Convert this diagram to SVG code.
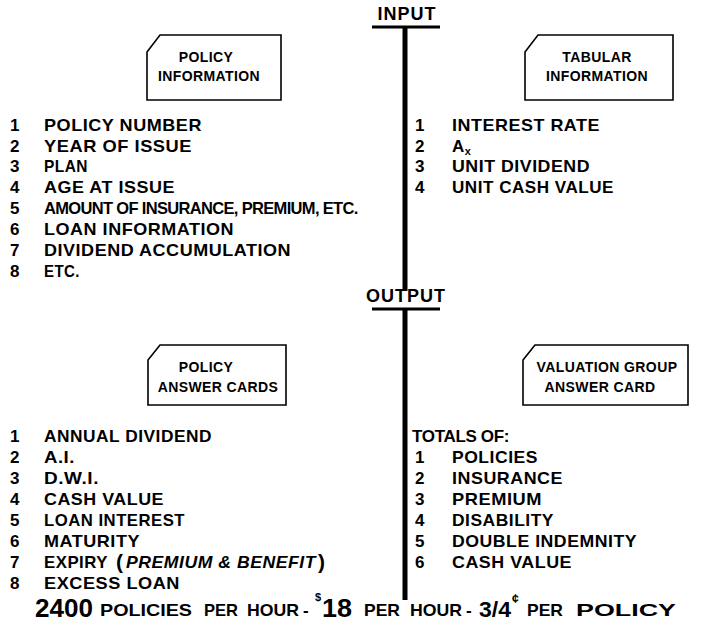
<svg xmlns="http://www.w3.org/2000/svg" width="703" height="637" viewBox="0 0 703 637">
<style>
  text { font-family: "Liberation Sans", Arial, sans-serif; font-weight: bold; fill: #000; }
  .hdr { font-size: 18px; text-anchor: middle; letter-spacing: 1px; }
  .card { fill: #fff; stroke: #000; stroke-width: 1.6; }
  .ct { font-size: 14px; text-anchor: middle; letter-spacing: 0.4px; }
  .li { font-size: 17px; letter-spacing: 0.5px; }
  .it { font-style: italic; }
  .sc { font-size: 17px; }
  .big { font-size: 25px; }
  .line { stroke: #000; fill: none; }
</style>
<rect width="703" height="637" fill="#fff"/>

<g id="connectors">
  <line class="line" x1="372" y1="27" x2="440" y2="27" stroke-width="3"/>
  <line class="line" x1="405" y1="27" x2="405" y2="291" stroke-width="5"/>
  <line class="line" x1="372" y1="309" x2="440" y2="309" stroke-width="3"/>
  <line class="line" x1="405" y1="309" x2="405" y2="600" stroke-width="5"/>
</g>

<g id="input-header"><text class="hdr" x="407" y="20">INPUT</text></g>
<g id="output-header"><text class="hdr" x="406" y="302">OUTPUT</text></g>

<g id="policy-information">
  <path class="card" d="M147,52 L160,35 L281,35 L281,100 L147,100 Z"/>
  <text class="ct" x="206" y="62">POLICY</text>
  <text class="ct" x="209" y="81">INFORMATION</text>
</g>
<g id="tabular-information">
  <path class="card" d="M525,52 L538,35 L673,35 L673,100 L525,100 Z"/>
  <text class="ct" x="597" y="62">TABULAR</text>
  <text class="ct" x="597" y="81">INFORMATION</text>
</g>
<g id="policy-answer-cards">
  <path class="card" d="M148,360 L160,345 L286,345 L286,405 L148,405 Z"/>
  <text class="ct" x="206" y="372">POLICY</text>
  <text class="ct" x="218" y="392">ANSWER CARDS</text>
</g>
<g id="valuation-group-answer-card">
  <path class="card" d="M523,360 L535,345 L688,345 L688,405 L523,405 Z"/>
  <text class="ct" x="607" y="372">VALUATION GROUP</text>
  <text class="ct" x="600" y="392">ANSWER CARD</text>
</g>

<g id="policy-information-list">
  <text class="li" x="10" y="131">1</text><text class="li" x="44" y="131" textLength="158" lengthAdjust="spacingAndGlyphs">POLICY NUMBER</text>
  <text class="li" x="10" y="152">2</text><text class="li" x="44" y="152" textLength="148" lengthAdjust="spacingAndGlyphs">YEAR OF ISSUE</text>
  <text class="li" x="10" y="172">3</text><text class="li" x="44" y="172" textLength="44" lengthAdjust="spacingAndGlyphs">PLAN</text>
  <text class="li" x="10" y="193">4</text><text class="li" x="44" y="193" textLength="131" lengthAdjust="spacingAndGlyphs">AGE AT ISSUE</text>
  <text class="li" x="10" y="214">5</text><text x="44" y="214" font-size="16.5" letter-spacing="-0.3" textLength="314" lengthAdjust="spacing">AMOUNT OF INSURANCE, PREMIUM, ETC.</text>
  <text class="li" x="10" y="235">6</text><text class="li" x="44" y="235" textLength="190" lengthAdjust="spacingAndGlyphs">LOAN INFORMATION</text>
  <text class="li" x="10" y="256">7</text><text class="li" x="44" y="256" textLength="247" lengthAdjust="spacingAndGlyphs">DIVIDEND ACCUMULATION</text>
  <text class="li" x="10" y="277">8</text><text class="li" x="44" y="277" textLength="36" lengthAdjust="spacingAndGlyphs">ETC.</text>
</g>

<g id="tabular-information-list">
  <text class="li" x="415" y="131">1</text><text class="li" x="452" y="131" textLength="148" lengthAdjust="spacingAndGlyphs">INTEREST RATE</text>
  <text class="li" x="415" y="152">2</text><text class="li" x="452" y="152">A<tspan font-size="11" dy="3">x</tspan></text>
  <text class="li" x="415" y="172">3</text><text class="li" x="452" y="172" textLength="138" lengthAdjust="spacingAndGlyphs">UNIT DIVIDEND</text>
  <text class="li" x="415" y="193">4</text><text class="li" x="452" y="193" textLength="162" lengthAdjust="spacingAndGlyphs">UNIT CASH VALUE</text>
</g>

<g id="policy-answer-list">
  <text class="li" x="10" y="442">1</text><text class="li" x="44" y="442" textLength="168" lengthAdjust="spacingAndGlyphs">ANNUAL DIVIDEND</text>
  <text class="li" x="10" y="463">2</text><text class="li" x="44" y="463" textLength="31" lengthAdjust="spacingAndGlyphs">A.I.</text>
  <text class="li" x="10" y="484">3</text><text class="li" x="44" y="484" textLength="55" lengthAdjust="spacingAndGlyphs">D.W.I.</text>
  <text class="li" x="10" y="505">4</text><text class="li" x="44" y="505" textLength="120" lengthAdjust="spacingAndGlyphs">CASH VALUE</text>
  <text class="li" x="10" y="526">5</text><text class="li" x="44" y="526" textLength="141" lengthAdjust="spacingAndGlyphs">LOAN INTEREST</text>
  <text class="li" x="10" y="547">6</text><text class="li" x="44" y="547" textLength="96" lengthAdjust="spacingAndGlyphs">MATURITY</text>
  <text class="li" x="10" y="568">7</text><text class="li" x="44" y="568" textLength="64" lengthAdjust="spacingAndGlyphs">EXPIRY</text><text x="116" y="569" font-size="21" font-weight="normal">(</text><text class="li it" x="126" y="568" font-size="15" textLength="190" lengthAdjust="spacingAndGlyphs">PREMIUM &amp; BENEFIT</text><text x="318" y="569" font-size="21" font-weight="normal">)</text>
  <text class="li" x="10" y="589">8</text><text class="li" x="44" y="589" textLength="136" lengthAdjust="spacingAndGlyphs">EXCESS LOAN</text>
</g>

<g id="valuation-group-list">
  <text class="li" x="412" y="442" textLength="98" lengthAdjust="spacing" letter-spacing="0">TOTALS OF:</text>
  <text class="li" x="415" y="463">1</text><text class="li" x="452" y="463" textLength="86" lengthAdjust="spacingAndGlyphs">POLICIES</text>
  <text class="li" x="415" y="484">2</text><text class="li" x="452" y="484" textLength="111" lengthAdjust="spacingAndGlyphs">INSURANCE</text>
  <text class="li" x="415" y="505">3</text><text class="li" x="452" y="505" textLength="90" lengthAdjust="spacingAndGlyphs">PREMIUM</text>
  <text class="li" x="415" y="526">4</text><text class="li" x="452" y="526" textLength="102" lengthAdjust="spacingAndGlyphs">DISABILITY</text>
  <text class="li" x="415" y="547">5</text><text class="li" x="452" y="547" textLength="185" lengthAdjust="spacingAndGlyphs">DOUBLE INDEMNITY</text>
  <text class="li" x="415" y="568">6</text><text class="li" x="452" y="568" textLength="120" lengthAdjust="spacingAndGlyphs">CASH VALUE</text>
</g>

<g id="throughput">
  <text class="big" x="35" y="617" textLength="58" lengthAdjust="spacingAndGlyphs">2400</text>
  <text class="sc" x="100" y="616" textLength="92" lengthAdjust="spacingAndGlyphs">POLICIES</text>
  <text class="sc" x="204" y="616" textLength="34" lengthAdjust="spacingAndGlyphs">PER</text>
  <text class="sc" x="247" y="616" textLength="52" lengthAdjust="spacingAndGlyphs">HOUR</text>
  <text class="sc" x="303" y="616">-</text>
  <text x="315" y="601" font-size="11">$</text>
  <text class="big" x="322" y="617" textLength="30" lengthAdjust="spacingAndGlyphs">18</text>
  <text class="sc" x="364" y="616" textLength="36" lengthAdjust="spacingAndGlyphs">PER</text>
  <text class="sc" x="410" y="616" textLength="52" lengthAdjust="spacingAndGlyphs">HOUR</text>
  <text class="sc" x="466" y="616">-</text>
  <text x="479" y="617" font-size="22" textLength="32" lengthAdjust="spacingAndGlyphs">3/4</text>
  <text x="512" y="603" font-size="12">¢</text>
  <text class="sc" x="527" y="616" textLength="36" lengthAdjust="spacingAndGlyphs">PER</text>
  <text class="sc" x="576" y="616" textLength="100" lengthAdjust="spacingAndGlyphs">POLICY</text>
</g>
</svg>
